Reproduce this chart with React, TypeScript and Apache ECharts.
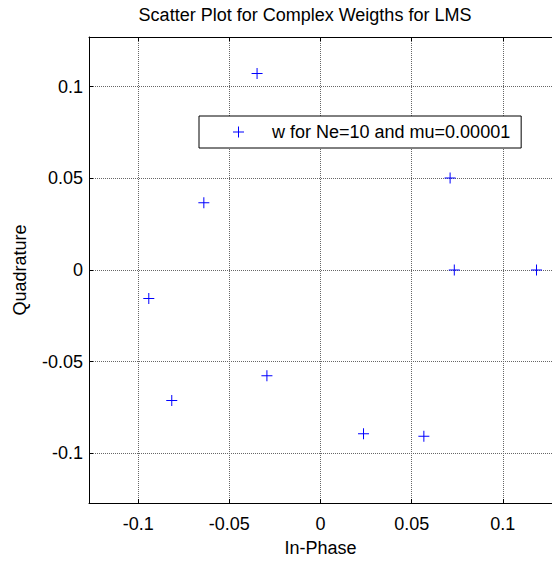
import React, { useEffect, useRef } from "react";
import * as echarts from "echarts";

const inPhase = [-0.0348, -0.064, -0.0942, -0.0816, -0.0294, 0.0236, 0.0567, 0.0711, 0.0734, 0.1185];
const quadrature = [0.1071, 0.0367, -0.0155, -0.0711, -0.0576, -0.0892, -0.0906, 0.0502, 0.0, 0.0];
const tickValues = [-0.1, -0.05, 0, 0.05, 0.1];
const seriesName = "w for Ne=10 and mu=0.00001";
const titleText = "Scatter Plot for Complex Weigths for LMS";

const FONT = '"Liberation Sans", Arial, sans-serif';
const PLUS = "path://M0,5 H11 V6 H0 Z M5,0 H6 V11 H5 Z";

export default function App() {
  const ref = useRef<HTMLDivElement>(null);
  useEffect(() => {
    if (!ref.current) return;
    const chart = echarts.init(ref.current, null, { renderer: "svg" });
    const axisCommon = {
      min: -0.127,
      max: 0.127,
      axisLine: { show: true, onZero: false, lineStyle: { color: "#000", width: 1 } },
      axisTick: { show: true, inside: true, length: 4, customValues: tickValues, lineStyle: { color: "#000" } },
      axisLabel: { customValues: tickValues, color: "#000", fontSize: 18, fontFamily: FONT },
      splitLine: { show: true, lineStyle: { color: "#666", type: "dotted", width: 1 } },
      nameTextStyle: { color: "#000", fontSize: 18, fontFamily: FONT },
    };
    chart.setOption({
      animation: false,
      grid: { left: 89, top: 37, width: 469, height: 469, containLabel: false },
      xAxis: [
        {
          ...axisCommon,
          type: "value",
          position: "bottom",
          name: "In-Phase",
          nameLocation: "middle",
          nameGap: 36,
          axisLabel: { ...axisCommon.axisLabel, margin: 12 },
        },
        {
          type: "value",
          position: "top",
          min: -0.127,
          max: 0.127,
          axisLine: { show: true, onZero: false, lineStyle: { color: "#000", width: 1 } },
          axisTick: { show: true, inside: true, length: 4, customValues: tickValues, lineStyle: { color: "#000" } },
          axisLabel: { show: false },
          splitLine: { show: false },
        },
      ],
      yAxis: {
        ...axisCommon,
        type: "value",
        name: "Quadrature",
        nameLocation: "middle",
        nameGap: 60,
        axisLabel: { ...axisCommon.axisLabel, margin: 6 },
      },
      legend: {
        show: true,
        left: 199,
        top: 116,
        orient: "horizontal",
        data: [{ name: seriesName, icon: PLUS }],
        itemWidth: 11,
        itemHeight: 11,
        padding: [7, 11, 7, 34],
        borderColor: "#000",
        borderWidth: 1,
        backgroundColor: "#fff",
        borderRadius: 0,
        textStyle: { color: "#000", fontSize: 18, fontFamily: FONT, padding: [0, 0, 0, 23] },
        selectedMode: false,
      },
      graphic: [
        {
          type: "text",
          x: 305,
          y: 15,
          style: {
            text: titleText,
            fill: "#000",
            font: `18px ${FONT}`,
            textAlign: "center",
            textVerticalAlign: "middle",
          },
        },
      ],
      series: [
        {
          name: seriesName,
          type: "scatter",
          xAxisIndex: 0,
          yAxisIndex: 0,
          symbol: PLUS,
          symbolSize: 11,
          itemStyle: { color: "#0000ff", opacity: 1 },
          data: inPhase.map((x, i) => [x, quadrature[i]]),
        },
      ],
    });
    return () => chart.dispose();
  }, []);
  return <div ref={ref} style={{ position: "absolute", left: 0, top: 0, width: 552, height: 562 }} />;
}
